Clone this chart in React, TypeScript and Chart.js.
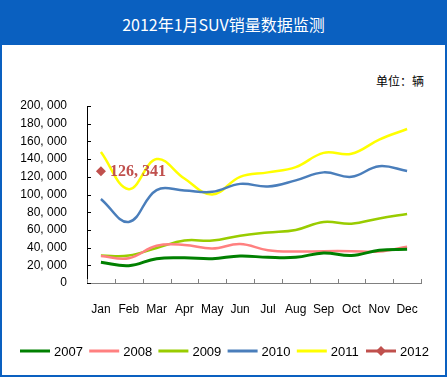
import React, { useEffect, useRef } from "react";
import { Chart, registerables } from "chart.js";

Chart.register(...registerables);

const months = ["Jan", "Feb", "Mar", "Apr", "May", "Jun", "Jul", "Aug", "Sep", "Oct", "Nov", "Dec"];
const seriesNames = ["2007", "2008", "2009", "2010", "2011", "2012"];
const sales2007 = [23500, 19500, 27500, 28500, 27500, 30500, 29000, 29000, 34000, 31000, 37000, 38000];
const sales2008 = [30500, 28000, 42000, 43000, 39000, 44000, 37000, 35500, 36000, 36000, 35500, 41000];
const sales2009 = [31000, 31000, 39500, 48000, 48000, 53500, 57000, 60000, 69000, 67000, 73000, 78000];
const sales2010 = [95000, 69000, 105000, 104500, 103000, 112000, 109000, 116000, 125000, 120000, 132000, 126500];
const sales2011 = [148000, 106000, 140000, 118000, 100000, 120000, 125000, 131000, 147000, 146000, 162000, 174000];
const sales2012 = [126341, null, null, null, null, null, null, null, null, null, null, null];
const colors = ["#008000", "#FF8080", "#99CC00", "#4A7EBB", "#FFFF00", "#C0504D"];
const yMax = 200000;
const yStep = 20000;

const fmt = (v: number) => v.toLocaleString("en-US").replace(/,/g, ", ");

const App: React.FC = () => {
  const ref = useRef<HTMLCanvasElement>(null);

  useEffect(() => {
    if (!ref.current) return;
    const seriesData = [sales2007, sales2008, sales2009, sales2010, sales2011, sales2012];

    const decor = {
      id: "decor",
      afterDraw(chart: any) {
        const ctx = chart.ctx;
        const xs = chart.scales.x;
        const ys = chart.scales.y;
        const area = chart.chartArea;
        ctx.save();
        // y ticks (inside)
        ctx.strokeStyle = "#000";
        ctx.lineWidth = 1;
        for (let v = 0; v <= yMax; v += yStep) {
          const y = Math.round(ys.getPixelForValue(v)) + 0.5;
          ctx.beginPath();
          ctx.moveTo(area.left, y);
          ctx.lineTo(area.left + 4, y);
          ctx.stroke();
        }
        // x ticks (inside, at category boundaries)
        ctx.strokeStyle = "#808080";
        const n = months.length;
        const w = (area.right - area.left) / n;
        for (let i = 0; i <= n; i++) {
          const x = Math.round(area.left + i * w) + 0.5;
          ctx.beginPath();
          ctx.moveTo(x, area.bottom);
          ctx.lineTo(x, area.bottom - 4);
          ctx.stroke();
        }
        // legend
        const ly = 351;
        ctx.font = "13px 'Liberation Sans', Arial, sans-serif";
        ctx.textBaseline = "middle";
        ctx.textAlign = "left";
        chart.data.datasets.forEach((ds: any, i: number) => {
          const x0 = 20 + i * 69.2;
          ctx.strokeStyle = ds.borderColor;
          ctx.lineWidth = 3;
          ctx.beginPath();
          ctx.moveTo(x0, ly);
          ctx.lineTo(x0 + 30, ly);
          ctx.stroke();
          if (i === 5) {
            ctx.fillStyle = ds.borderColor;
            ctx.beginPath();
            ctx.moveTo(x0 + 15, ly - 5);
            ctx.lineTo(x0 + 20, ly);
            ctx.lineTo(x0 + 15, ly + 5);
            ctx.lineTo(x0 + 10, ly);
            ctx.closePath();
            ctx.fill();
          }
          ctx.fillStyle = "#000";
          ctx.fillText(ds.label, x0 + 34, ly + 1);
        });
        // data label for 2012
        const meta = chart.getDatasetMeta(5);
        const pt = meta.data[0];
        if (pt) {
          ctx.font = "bold 16px 'Liberation Serif', 'DejaVu Serif', serif";
          ctx.fillStyle = "#C0504D";
          ctx.textBaseline = "middle";
          ctx.fillText(fmt(sales2012[0] as number), pt.x + 9, pt.y + 1);
        }
        ctx.restore();
      },
    };

    const chart = new Chart(ref.current, {
      type: "line",
      data: {
        labels: months,
        datasets: seriesNames.map((name, i) => ({
          label: name,
          data: seriesData[i],
          borderColor: colors[i],
          backgroundColor: colors[i],
          borderWidth: i === 0 ? 3 : 2.5,
          tension: 0.4,
          pointRadius: i === 5 ? 5 : 0,
          pointStyle: "rectRot",
          pointBorderWidth: 0,
          spanGaps: false,
        })),
      },
      options: {
        responsive: false,
        animation: false,
        layout: { padding: { left: 0, top: 106, right: 26, bottom: 0 } },
        plugins: { legend: { display: false }, tooltip: { enabled: false } },
        scales: {
          x: {
            type: "category",
            offset: true,
            grid: { drawOnChartArea: false, drawTicks: false, offset: true },
            border: { display: true, color: "#808080", width: 1 },
            ticks: {
              color: "#000",
              padding: 19,
              maxRotation: 0,
              autoSkip: false,
              font: { family: "'Liberation Sans', Arial, sans-serif", size: 12 },
            },
            afterFit: (s: any) => {
              s.height = 94;
            },
          },
          y: {
            min: 0,
            max: yMax,
            grid: { drawOnChartArea: false, drawTicks: false },
            border: { display: true, color: "#000", width: 1 },
            ticks: {
              stepSize: yStep,
              color: "#000",
              padding: 20,
              font: { family: "'Liberation Sans', Arial, sans-serif", size: 12 },
              callback: (v: any) => fmt(Number(v)),
            },
            afterFit: (s: any) => {
              s.width = 87;
            },
          },
        },
      },
      plugins: [decor],
    });
    return () => chart.destroy();
  }, []);

  return (
    <div
      style={{
        position: "absolute",
        left: 0,
        top: 0,
        width: 447,
        height: 377,
        boxSizing: "border-box",
        border: "2px solid #0A60C0",
        background: "#fff",
        overflow: "hidden",
      }}
    >
      <div
        style={{
          position: "absolute",
          left: 0,
          top: 0,
          width: 443,
          height: 43,
          background: "#0A60C0",
          color: "#fff",
          font: "16px 'Noto Sans CJK SC', sans-serif",
          display: "flex",
          alignItems: "center",
          justifyContent: "center",
        }}
      >
        2012年1月SUV销量数据监测
      </div>
      <div
        style={{
          position: "absolute",
          left: 374,
          top: 70,
          font: "12px 'Noto Sans CJK SC', sans-serif",
          color: "#000",
          whiteSpace: "nowrap",
        }}
      >
        单位：辆
      </div>
      <canvas
        ref={ref}
        width={447}
        height={377}
        style={{ position: "absolute", left: -2, top: -2 }}
      />
    </div>
  );
};

export default App;
